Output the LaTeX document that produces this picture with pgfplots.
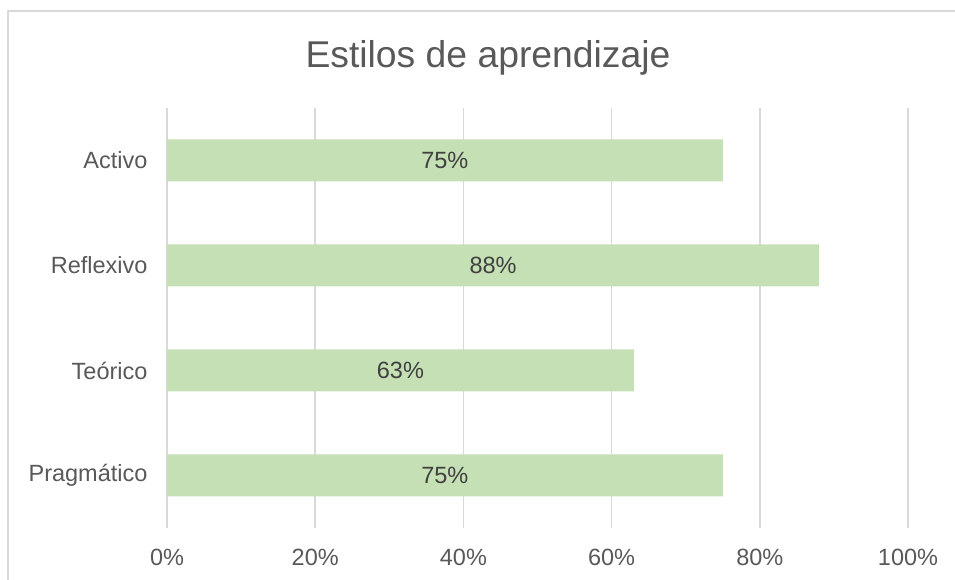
\documentclass[border=0pt]{standalone}
\usepackage{pgfplots}
\usepackage{pgfplotstable}
\pgfplotsset{compat=1.18}
\usepackage{fontspec}
\setmainfont{Liberation Sans}
\definecolor{txt}{HTML}{595959}
\definecolor{lbl}{HTML}{404040}
\definecolor{gridc}{HTML}{D9D9D9}
\definecolor{barc}{HTML}{C5E0B4}
\pgfplotstableread{
y v
3 75
2 88
1 63
0 75
}\datatable
\begin{document}
\begin{tikzpicture}[x=1pt,y=1pt]
\clip (0,0) rectangle (955,580);
\useasboundingbox (0,0) rectangle (955,580);
\draw[gridc,line width=1.2pt] (8,-10) -- (8,569) -- (970,569);
\node[text=txt,font=\fontsize{37.3}{44}\selectfont] at (488,522) {Estilos de aprendizaje};
\begin{axis}[
  at={(167pt,52pt)}, anchor=south west,
  width=741pt, height=420pt, scale only axis,
  xmin=0, xmax=100, ymin=-0.5, ymax=3.5,
  xtick={0,20,40,60,80,100},
  xticklabel={\pgfmathprintnumber{\tick}\%},
  ytick={0,1,2,3},
  yticklabels={Pragmático,Teórico,Reflexivo,Activo},
  axis line style={draw=none},
  major tick length=0pt,
  xmajorgrids=true, ymajorgrids=false,
  major grid style={draw=gridc,line width=1.5pt},
  tick label style={text=txt,font=\fontsize{23.5}{28}\selectfont},
  /pgf/number format/assume math mode=true,
  xticklabel style={yshift=-18pt},
  yticklabel style={xshift=-16pt},
  clip=false,
]
\addplot[xbar, bar width=42pt, fill=barc, draw=none] table[x=v,y=y] {\datatable};
\addplot[draw=none, mark=none, nodes near coords={\pgfmathprintnumber{\pgfplotspointmeta}\%},
  point meta=explicit,
  every node near coord/.append style={anchor=center,text=lbl,font=\fontsize{23.5}{28}\selectfont}]
  table[x expr=\thisrow{v}/2, y=y, meta=v] {\datatable};
\end{axis}
\end{tikzpicture}
\end{document}
